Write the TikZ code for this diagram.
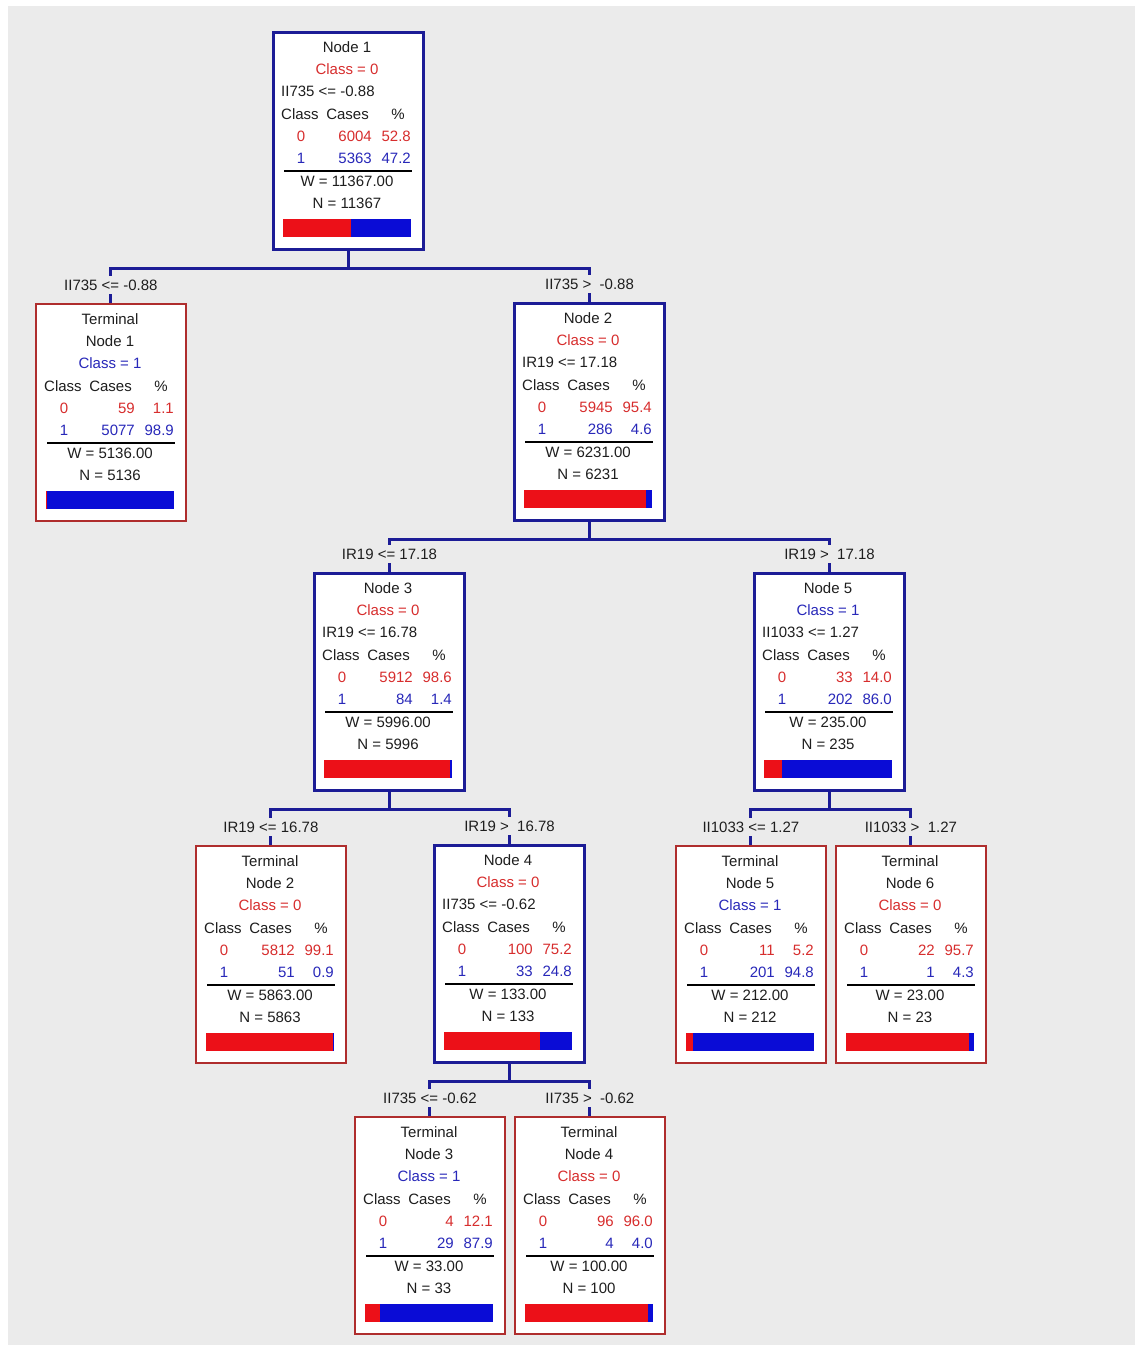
\documentclass[tikz,border=0pt]{standalone}
\usepackage{fontspec}
\setmainfont{Liberation Sans}
\usetikzlibrary{calc}
\definecolor{bggray}{RGB}{235,235,235}
\definecolor{navy}{RGB}{28,28,150}
\definecolor{termred}{RGB}{175,45,45}
\definecolor{txtred}{RGB}{215,45,45}
\definecolor{txtblue}{RGB}{40,40,185}
\definecolor{txtblack}{RGB}{30,30,30}
\definecolor{barred}{RGB}{236,16,24}
\definecolor{barblue}{RGB}{10,12,214}
\tikzset{
  innerbox/.style={draw=navy, line width=3pt, fill=white, minimum width=150pt, minimum height=217pt, inner sep=0pt},
  termbox/.style={draw=termred, line width=1.8pt, fill=white, minimum width=150pt, minimum height=217pt, inner sep=0pt},
  txt/.style={inner sep=0pt, font=\fontsize{15}{17}\selectfont, text=txtblack},
  conn/.style={draw=navy, line width=3pt, line join=miter},
  lbl/.style={fill=bggray, inner xsep=1pt, inner ysep=4pt, font=\fontsize{15}{17}\selectfont, text=txtblack},
  rowrule/.style={draw=black, line width=1.4pt},
}
\newcommand\MkInner[7]{%
  \node[innerbox, anchor=north west] (#1) at (#2,#3) {};
  \node[txt, anchor=base] (#1-t) at ($(#1.north west)+(75,21)$) {#4};
  \node[txt, anchor=base, text=#5] (#1-c) at ($(#1.north west)+(75,43)$) {#6};
  \node[txt, anchor=base west] (#1-s) at ($(#1.north west)+(9,65)$) {#7};
}
\newcommand\MkTerm[6]{%
  \node[termbox, anchor=north west] (#1) at (#2,#3) {};
  \node[txt, anchor=base] (#1-t) at ($(#1.north west)+(75,21)$) {Terminal};
  \node[txt, anchor=base] (#1-n) at ($(#1.north west)+(75,43)$) {#4};
  \node[txt, anchor=base, text=#5] (#1-c) at ($(#1.north west)+(75,65)$) {#6};
}
\newcommand\MkStats[8]{%
  \node[txt, anchor=base west] (#1-h1) at ($(#1.north west)+(9,88)$) {Class};
  \node[txt, anchor=base east] (#1-h2) at ($(#1.north west)+(97,88)$) {Cases};
  \node[txt, anchor=base east] (#1-h3) at ($(#1.north west)+(133,88)$) {\%};
  \node[txt, anchor=base, text=txtred] (#1-a0) at ($(#1.north west)+(29,110)$) {0};
  \node[txt, anchor=base east, text=txtred] (#1-b0) at ($(#1.north west)+(100,110)$) {#2};
  \node[txt, anchor=base east, text=txtred] (#1-c0) at ($(#1.north west)+(139,110)$) {#3};
  \node[txt, anchor=base, text=txtblue] (#1-a1) at ($(#1.north west)+(29,132)$) {1};
  \node[txt, anchor=base east, text=txtblue] (#1-b1) at ($(#1.north west)+(100,132)$) {#4};
  \node[txt, anchor=base east, text=txtblue] (#1-c1) at ($(#1.north west)+(139,132)$) {#5};
  \draw[rowrule] ($(#1.north west)+(12,140)$) -- ($(#1.north west)+(140,140)$);
  \node[txt, anchor=base] (#1-w) at ($(#1.north west)+(75,155)$) {W = #6};
  \node[txt, anchor=base] (#1-nn) at ($(#1.north west)+(75,177)$) {N = #7};
  \fill[barred] ($(#1.north west)+(11,188)$) rectangle ($(#1.north west)+({11+1.28*#8},206)$);
  \fill[barblue] ($(#1.north west)+({11+1.28*#8},188)$) rectangle ($(#1.north west)+(139,206)$);
}
\begin{document}
\begin{tikzpicture}[x=1pt,y=-1pt]
\useasboundingbox (0,0) rectangle (1135,1345);
\fill[white] (0,0) rectangle (1135,1345);
\fill[bggray] (8,6) rectangle (1135,1345);

% boxes
\MkInner{n1}{272}{31}{Node 1}{txtred}{Class = 0}{II735 <=\ -0.88}
\MkStats{n1}{6004}{52.8}{5363}{47.2}{11367.00}{11367}{52.8}
\MkTerm{t1}{35}{303}{Node 1}{txtblue}{Class = 1}
\MkStats{t1}{59}{1.1}{5077}{98.9}{5136.00}{5136}{1.1}
\MkInner{n2}{513}{302}{Node 2}{txtred}{Class = 0}{IR19 <=\ 17.18}
\MkStats{n2}{5945}{95.4}{286}{4.6}{6231.00}{6231}{95.4}
\MkInner{n3}{313}{572}{Node 3}{txtred}{Class = 0}{IR19 <=\ 16.78}
\MkStats{n3}{5912}{98.6}{84}{1.4}{5996.00}{5996}{98.6}
\MkInner{n5}{753}{572}{Node 5}{txtblue}{Class = 1}{II1033 <=\ 1.27}
\MkStats{n5}{33}{14.0}{202}{86.0}{235.00}{235}{14.0}
\MkTerm{t2}{195}{845}{Node 2}{txtred}{Class = 0}
\MkStats{t2}{5812}{99.1}{51}{0.9}{5863.00}{5863}{99.1}
\MkInner{n4}{433}{844}{Node 4}{txtred}{Class = 0}{II735 <=\ -0.62}
\MkStats{n4}{100}{75.2}{33}{24.8}{133.00}{133}{75.2}
\MkTerm{t5}{675}{845}{Node 5}{txtblue}{Class = 1}
\MkStats{t5}{11}{5.2}{201}{94.8}{212.00}{212}{5.2}
\MkTerm{t6}{835}{845}{Node 6}{txtred}{Class = 0}
\MkStats{t6}{22}{95.7}{1}{4.3}{23.00}{23}{95.7}
\MkTerm{t3}{354}{1116}{Node 3}{txtblue}{Class = 1}
\MkStats{t3}{4}{12.1}{29}{87.9}{33.00}{33}{12.1}
\MkTerm{t4}{514}{1116}{Node 4}{txtred}{Class = 0}
\MkStats{t4}{96}{96.0}{4}{4.0}{100.00}{100}{96.0}

% connectors
\coordinate (j1) at ($(n1.south)+(0,17)$);
\coordinate (j2) at ($(n2.south)+(0,17)$);
\coordinate (j3) at ($(n3.south)+(0,17)$);
\coordinate (j5) at ($(n5.south)+(0,17)$);
\coordinate (j4) at ($(n4.south)+(0,17)$);
\draw[conn] (n1.south) -- (j1);
\draw[conn] (t1.north) |- (j1) -| (n2.north);
\draw[conn] (n2.south) -- (j2);
\draw[conn] (n3.north) |- (j2) -| (n5.north);
\draw[conn] (n3.south) -- (j3);
\draw[conn] (t2.north) |- (j3) -| (n4.north);
\draw[conn] (n5.south) -- (j5);
\draw[conn] (t5.north) |- (j5) -| (t6.north);
\draw[conn] (n4.south) -- (j4);
\draw[conn] (t3.north) |- (j4) -| (t4.north);

% split labels
\node[lbl] (t1-l) at ($(t1.north)+(0,-18)$) {II735 <=\ -0.88};
\node[lbl] (n2-l) at ($(n2.north)+(0,-18)$) {II735 >\ \ -0.88};
\node[lbl] (n3-l) at ($(n3.north)+(0,-18)$) {IR19 <=\ 17.18};
\node[lbl] (n5-l) at ($(n5.north)+(0,-18)$) {IR19 >\ \ 17.18};
\node[lbl] (t2-l) at ($(t2.north)+(0,-18)$) {IR19 <=\ 16.78};
\node[lbl] (n4-l) at ($(n4.north)+(0,-18)$) {IR19 >\ \ 16.78};
\node[lbl] (t5-l) at ($(t5.north)+(0,-18)$) {II1033 <=\ 1.27};
\node[lbl] (t6-l) at ($(t6.north)+(0,-18)$) {II1033 >\ \ 1.27};
\node[lbl] (t3-l) at ($(t3.north)+(0,-18)$) {II735 <=\ -0.62};
\node[lbl] (t4-l) at ($(t4.north)+(0,-18)$) {II735 >\ \ -0.62};
\end{tikzpicture}
\end{document}
